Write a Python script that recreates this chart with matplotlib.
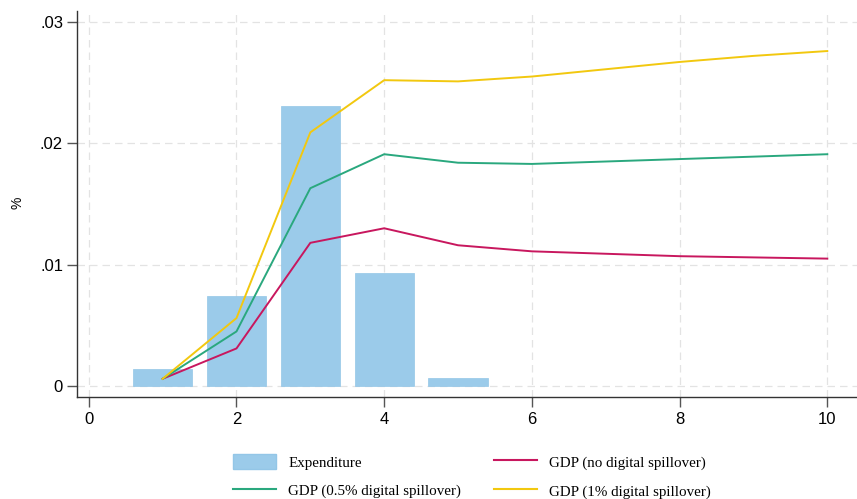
import matplotlib
matplotlib.use("Agg")
import matplotlib.pyplot as plt
from matplotlib.patches import Patch
from matplotlib.lines import Line2D

periods = [1, 2, 3, 4, 5, 6, 7, 8, 9, 10]
bar_x = [1, 2, 3, 4, 5]
expenditure = [0.0014, 0.0074, 0.0231, 0.0093, 0.00066]
gdp_no = [0.0006, 0.0031, 0.0118, 0.0130, 0.0116, 0.0111, 0.0109, 0.0107, 0.0106, 0.0105]
gdp_05 = [0.0006, 0.0045, 0.0163, 0.0191, 0.0184, 0.0183, 0.0185, 0.0187, 0.0189, 0.0191]
gdp_1 = [0.0006, 0.0056, 0.0209, 0.0252, 0.0251, 0.0255, 0.0261, 0.0267, 0.0272, 0.0276]
xticks = [0, 2, 4, 6, 8, 10]
yticks = [0, 0.01, 0.02, 0.03]
ytick_labels = ["0", ".01", ".02", ".03"]

c_bar = "#9bcbea"
c_red = "#c8175e"
c_green = "#2aa87e"
c_yellow = "#f2c80f"

fig = plt.figure(figsize=(8.57, 4.99), dpi=100)
ax = fig.add_axes([0.0898, 0.2044, 0.91, 0.7736])

ax.bar(bar_x, expenditure, width=0.8, color=c_bar, edgecolor="#93c6e7", linewidth=0.5, zorder=2)
ax.plot(periods, gdp_no, color=c_red, lw=1.4, zorder=3)
ax.plot(periods, gdp_05, color=c_green, lw=1.4, zorder=3)
ax.plot(periods, gdp_1, color=c_yellow, lw=1.4, zorder=3)

ax.set_xlim(-0.16, 10.4)
ax.set_ylim(-0.0009, 0.0309)
ax.set_xticks(xticks)
ax.set_yticks(yticks)
ax.set_yticklabels(ytick_labels)
ax.grid(True, color="#e3e3e3", linestyle=(0, (6, 4)), linewidth=0.9, zorder=0)
ax.set_axisbelow(True)
for s in ["top", "right"]:
    ax.spines[s].set_visible(False)
for s in ["left", "bottom"]:
    ax.spines[s].set_color("#333333")
    ax.spines[s].set_linewidth(1.0)
ax.tick_params(axis="both", direction="out", length=7, width=1, color="#555555",
               labelsize=12)
ax.tick_params(axis="x", pad=4)
ax.tick_params(axis="y", pad=3)
for lbl in ax.get_xticklabels() + ax.get_yticklabels():
    lbl.set_fontfamily("Liberation Sans")

fig.text(17 / 857, 1 - 203 / 499, "%", rotation=90, ha="center", va="center",
         fontsize=10, fontfamily="Liberation Sans")

handles = [
    Patch(facecolor=c_bar, edgecolor="#93c6e7"),
    Line2D([], [], color=c_green, lw=1.5),
    Line2D([], [], color=c_red, lw=1.5),
    Line2D([], [], color=c_yellow, lw=1.5),
]
labels = ["Expenditure", "GDP (0.5% digital spillover)",
          "GDP (no digital spillover)", "GDP (1% digital spillover)"]
fig.legend(handles, labels, ncol=2, loc="upper left", bbox_to_anchor=(233 / 857, 1 - 454 / 499),
           frameon=False, prop={"family": "Liberation Serif", "size": 10.8},
           handlelength=2.87, handleheight=1.2, columnspacing=2.2, labelspacing=0.85,
           handletextpad=0.8, borderpad=0, borderaxespad=0)

fig.savefig("out.png", dpi=100)
